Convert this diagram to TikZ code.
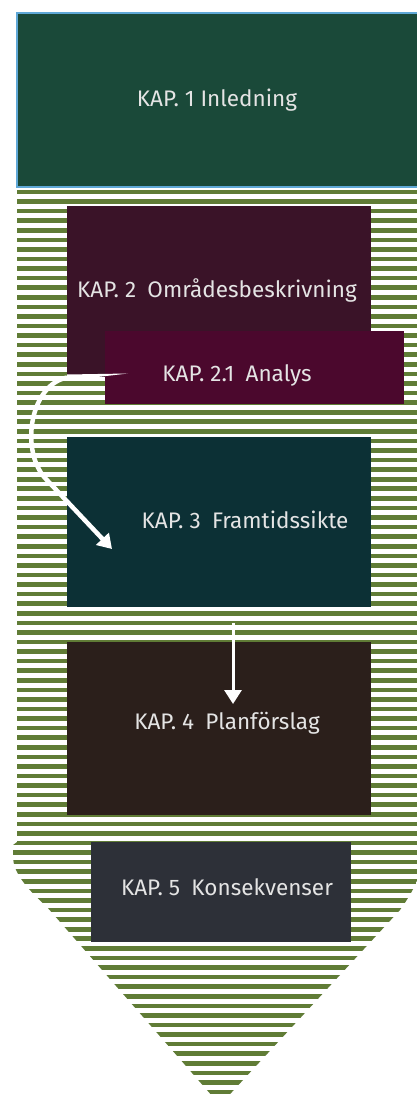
\documentclass[tikz,border=0pt]{standalone}
\usepackage{fontspec}
\setmainfont{Fira Sans}
\usetikzlibrary{arrows.meta}
\definecolor{stripegreen}{RGB}{96,124,54}
\definecolor{cone}{RGB}{26,73,57}
\definecolor{coneb}{RGB}{95,168,215}
\definecolor{ctwo}{RGB}{58,19,40}
\definecolor{ctwoone}{RGB}{75,8,45}
\definecolor{cthree}{RGB}{12,48,53}
\definecolor{cfour}{RGB}{43,31,27}
\definecolor{cfive}{RGB}{45,48,56}
\definecolor{txt}{RGB}{228,228,228}
\begin{document}
\begin{tikzpicture}[x=1pt,y=-1pt,
  box/.style={draw=none, inner sep=0pt, outer sep=0pt, anchor=north west},
  lbl/.style={text=txt, font=\fontsize{22.5}{27}\selectfont, anchor=base, inner sep=0pt},
  wa/.style={draw=white, line width=4.5pt, -{Triangle[width=17pt,length=14pt]}},
  wb/.style={draw=white, line width=3pt, -{Triangle[width=17pt,length=14pt]}}]
\useasboundingbox (0,0) rectangle (417,1099);
\clip (0,0) rectangle (417,1099);
\fill[white] (0,0) rectangle (417,1099);
% striped arrow shape
\begin{scope}
\clip (17,190) -- (17,842) -- (13,845) -- (13,858)
  .. controls (14,872) and (24,886) .. (47,907) -- (220,1105) -- (400,910)
  .. controls (412,893) and (420,878) .. (424,860) -- (430,845) -- (430,190) -- cycle;
\foreach \i in {0,...,95} {
  \fill[stripegreen] (0,{192+\i*9.574-2.3}) rectangle (440,{192+\i*9.574+2.3});
}
\end{scope}
% boxes
\node[box, fill=cone, draw=coneb, line width=1.5pt, minimum width=413pt, minimum height=174pt] (b1) at (17,13) {};
\node[box, fill=ctwo, minimum width=304pt, minimum height=171pt] (b2) at (67,206) {};
\node[box, fill=ctwoone, minimum width=299pt, minimum height=73pt] (b21) at (105,331) {};
\node[box, fill=cthree, minimum width=304pt, minimum height=170pt] (b3) at (67,437) {};
\node[box, fill=cfour, minimum width=304pt, minimum height=173pt] (b4) at (67,642) {};
\node[box, fill=cfive, minimum width=260pt, minimum height=100pt] (b5) at (91,842) {};
% labels
\node[lbl] (t1) at (217,107) {KAP. 1 Inledning};
\node[lbl] (t2) at (217,297) {KAP. 2\enspace Områdesbeskrivning};
\node[lbl] (t21) at (237,381) {KAP. 2.1\enspace Analys};
\node[lbl] (t3) at (245,528) {KAP. 3\enspace Framtidssikte};
\node[lbl] (t4) at (227,729) {KAP. 4\enspace Planförslag};
\node[lbl] (t5) at (227,895) {KAP. 5\enspace Konsekvenser};
% arrows
\coordinate (a1s) at (128,373.5);
\coordinate (k1) at (67,377.5);
\coordinate (k2) at (45,478);
\coordinate (a1e) at (112,549);
\fill[white] (a1s) -- (67,374.5) -- (67,380.5) -- cycle;
\draw[wa] (k1) .. controls (30,385) and (20,450) .. (k2) -- (a1e);
\coordinate (a2s) at (233,623);
\coordinate (a2e) at (233,704);
\draw[wb] (a2s) -- (a2e);
\end{tikzpicture}
\end{document}
